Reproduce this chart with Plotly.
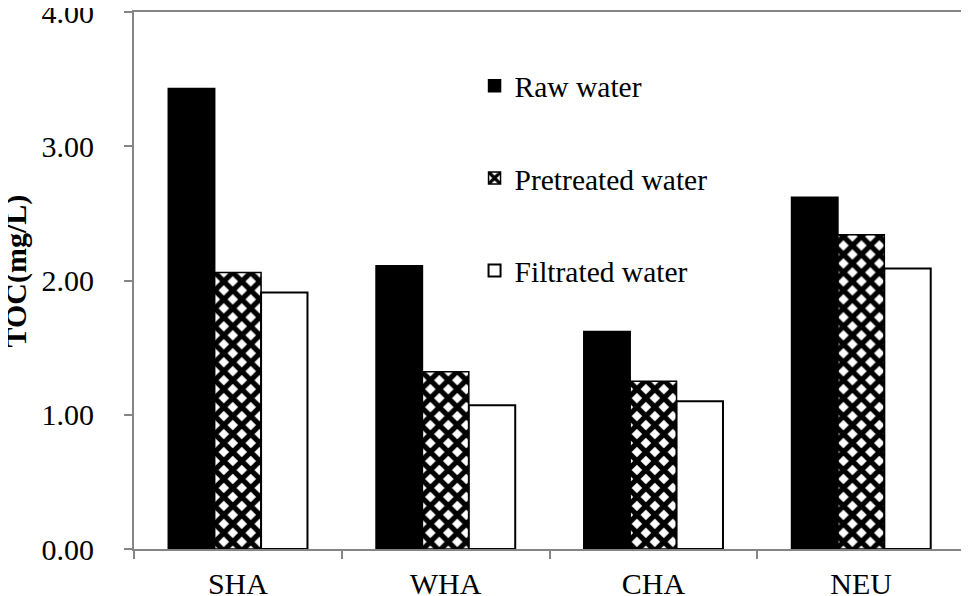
import plotly.graph_objects as go

categories = ["SHA", "WHA", "CHA", "NEU"]
raw_water = [3.43, 2.11, 1.62, 2.62]
pretreated_water = [2.06, 1.32, 1.25, 2.34]
filtrated_water = [1.91, 1.07, 1.10, 2.09]
series_names = ["Raw water", "Pretreated water", "Filtrated water"]
y_title = "TOC(mg/L)"

FONT = "Liberation Serif"
AX = "#858585"
FS = 30

fig = go.Figure()
fig.add_trace(go.Bar(
    x=categories, y=raw_water, name=series_names[0], legendgroup="a",
    marker=dict(color="black", line=dict(color="black", width=1.5)),
))
fig.add_trace(go.Bar(
    x=categories, y=pretreated_water, name=series_names[1], legendgroup="b",
    marker=dict(color="white", line=dict(color="black", width=1.5),
                pattern=dict(shape="x", fgcolor="black", bgcolor="white",
                             size=12.7, solidity=0.65, fillmode="replace")),
))
fig.add_trace(go.Bar(
    x=categories, y=filtrated_water, name=series_names[2], legendgroup="c",
    marker=dict(color="white", line=dict(color="black", width=2)),
))

fig.update_layout(
    width=969, height=596,
    margin=dict(l=126, r=12, t=4, b=55),
    paper_bgcolor="white", plot_bgcolor="white",
    barmode="group", bargap=0.33, bargroupgap=0,
    font=dict(family=FONT, size=FS, color="black"),
    showlegend=True,
    legend=dict(x=0.4098, y=0.9106, xanchor="left", yanchor="top",
                bgcolor="rgba(0,0,0,0)", font=dict(family=FONT, size=29.5),
                tracegroupgap=51, traceorder="grouped"),
    xaxis=dict(
        automargin=False,
        showline=True, linecolor=AX, linewidth=2, mirror=True,
        ticks="outside", tickson="boundaries", ticklen=8, tickwidth=2, tickcolor=AX,
        tickfont=dict(family=FONT, size=FS, color="black"),
        ticklabelstandoff=7, ticklabeloverflow="allow",
        showgrid=False, zeroline=False,
    ),
    yaxis=dict(
        automargin=False,
        range=[0, 4], dtick=1, tickformat=".2f",
        showline=True, linecolor=AX, linewidth=2, mirror=True,
        ticks="outside", ticklen=8, tickwidth=2, tickcolor=AX,
        tickfont=dict(family=FONT, size=FS, color="black"),
        ticklabelstandoff=24, ticklabeloverflow="allow",
        showgrid=False, zeroline=False,
    ),
    annotations=[dict(
        text=y_title, textangle=-90, showarrow=False,
        xref="paper", yref="paper", x=-0.1426, y=0.5177,
        xanchor="center", yanchor="middle",
        font=dict(family=FONT, size=FS, weight="bold", color="black"),
    )],
)

fig.write_html("out.html")
